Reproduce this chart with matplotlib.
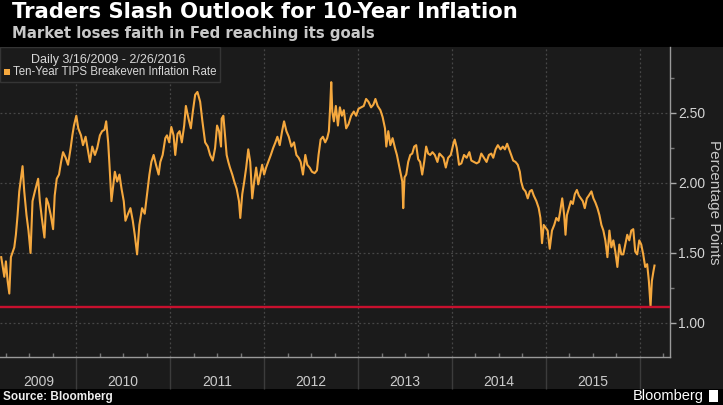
import numpy as np
import matplotlib
matplotlib.use("Agg")
import matplotlib.pyplot as plt
from matplotlib.patches import Rectangle
from matplotlib.ticker import FixedLocator, NullFormatter
import matplotlib.transforms as mtransforms

# Ten-year TIPS breakeven (x = decimal year, y = pct points)
t_a = [2009.203, 2009.236, 2009.253, 2009.271, 2009.289, 2009.306, 2009.342, 2009.359, 2009.377,
       2009.395, 2009.412, 2009.430, 2009.448, 2009.472, 2009.493, 2009.515, 2009.536, 2009.561,
       2009.596, 2009.614, 2009.635, 2009.663, 2009.684, 2009.705, 2009.730, 2009.755, 2009.772,
       2009.794, 2009.818, 2009.840, 2009.861, 2009.889, 2009.914, 2009.942, 2009.960, 2009.977,
       2010.002, 2010.023, 2010.052, 2010.073, 2010.101, 2010.129, 2010.147, 2010.172, 2010.200,
       2010.225, 2010.253, 2010.277, 2010.302, 2010.320, 2010.341, 2010.355, 2010.376]
v_a = [1.47, 1.33, 1.44, 1.30, 1.21, 1.47, 1.54, 1.63, 1.77, 1.94, 2.03, 2.12, 1.94, 1.77, 1.66,
       1.50, 1.87, 1.94, 2.03, 1.87, 1.75, 1.61, 1.89, 1.85, 1.77, 1.67, 1.91, 2.03, 2.06, 2.15,
       2.22, 2.18, 2.13, 2.25, 2.34, 2.41, 2.48, 2.39, 2.34, 2.27, 2.33, 2.22, 2.15, 2.26, 2.20,
       2.25, 2.34, 2.37, 2.38, 2.44, 2.29, 2.13, 1.87]

t_b = [2010.412, 2010.437, 2010.461, 2010.483, 2010.507, 2010.525, 2010.553, 2010.578, 2010.603,
       2010.624, 2010.649, 2010.673, 2010.702, 2010.730, 2010.755, 2010.780, 2010.801, 2010.825,
       2010.850, 2010.878, 2010.896, 2010.921, 2010.949, 2010.967, 2010.991, 2011.013, 2011.037,
       2011.055, 2011.079, 2011.101, 2011.125, 2011.150, 2011.168, 2011.196, 2011.221, 2011.242,
       2011.267, 2011.291, 2011.320, 2011.344, 2011.373, 2011.401, 2011.426, 2011.454, 2011.479,
       2011.500, 2011.521, 2011.542]
v_b = [2.08, 2.01, 2.06, 1.96, 1.87, 1.73, 1.78, 1.82, 1.73, 1.63, 1.49, 1.70, 1.82, 1.78, 1.92,
       2.06, 2.15, 2.20, 2.13, 2.06, 2.15, 2.20, 2.32, 2.34, 2.29, 2.40, 2.34, 2.20, 2.35, 2.37,
       2.29, 2.41, 2.55, 2.46, 2.39, 2.51, 2.63, 2.65, 2.58, 2.44, 2.29, 2.26, 2.20, 2.16, 2.25,
       2.41, 2.37, 2.26]

t_c = [2011.549, 2011.567, 2011.584, 2011.602, 2011.620, 2011.637, 2011.662, 2011.683, 2011.708,
       2011.733, 2011.747, 2011.768, 2011.789, 2011.810, 2011.832, 2011.853, 2011.874, 2011.895,
       2011.916, 2011.938, 2011.959, 2011.980, 2012.001, 2012.022, 2012.044, 2012.072, 2012.097,
       2012.121, 2012.142, 2012.167, 2012.192, 2012.213, 2012.238, 2012.263, 2012.291, 2012.319,
       2012.344, 2012.368, 2012.390, 2012.414, 2012.439, 2012.460, 2012.485, 2012.510, 2012.538,
       2012.563, 2012.580, 2012.602, 2012.626, 2012.651, 2012.672, 2012.690, 2012.704]
v_c = [2.46, 2.48, 2.34, 2.20, 2.15, 2.11, 2.06, 2.01, 1.96, 1.87, 1.75, 1.92, 2.01, 2.11, 2.24,
       2.15, 1.89, 2.01, 2.11, 1.99, 2.06, 2.13, 2.06, 2.11, 2.15, 2.20, 2.25, 2.29, 2.33, 2.27,
       2.37, 2.44, 2.37, 2.33, 2.26, 2.29, 2.20, 2.18, 2.15, 2.06, 2.20, 2.13, 2.11, 2.08, 2.07,
       2.09, 2.20, 2.31, 2.33, 2.29, 2.32, 2.37, 2.55]

t_d = [2012.715, 2012.726, 2012.743, 2012.764, 2012.786, 2012.807, 2012.828, 2012.849, 2012.874,
       2012.899, 2012.927, 2012.955, 2012.980, 2013.005, 2013.033, 2013.061, 2013.086, 2013.111,
       2013.139, 2013.164, 2013.185, 2013.209, 2013.238, 2013.262, 2013.287, 2013.301, 2013.322,
       2013.344, 2013.368, 2013.393, 2013.414, 2013.435, 2013.457, 2013.471, 2013.481, 2013.495,
       2013.513, 2013.534, 2013.556, 2013.577, 2013.598, 2013.619, 2013.640, 2013.661, 2013.683,
       2013.704, 2013.725, 2013.746, 2013.768, 2013.792, 2013.817, 2013.845, 2013.866]
v_d = [2.72, 2.51, 2.44, 2.55, 2.41, 2.54, 2.48, 2.52, 2.39, 2.42, 2.48, 2.51, 2.48, 2.53, 2.54,
       2.55, 2.60, 2.58, 2.54, 2.56, 2.60, 2.55, 2.52, 2.47, 2.39, 2.26, 2.37, 2.27, 2.32, 2.25,
       2.20, 2.13, 2.06, 2.01, 1.82, 2.04, 2.06, 2.15, 2.20, 2.21, 2.26, 2.27, 2.17, 2.15, 2.06,
       2.15, 2.26, 2.21, 2.20, 2.22, 2.20, 2.15, 2.21]

t_e = [2013.881, 2013.909, 2013.934, 2013.959, 2013.987, 2014.015, 2014.029, 2014.051, 2014.075,
       2014.100, 2014.128, 2014.156, 2014.185, 2014.206, 2014.234, 2014.262, 2014.287, 2014.312,
       2014.340, 2014.368, 2014.393, 2014.418, 2014.439, 2014.464, 2014.488, 2014.517, 2014.541,
       2014.563, 2014.587, 2014.609, 2014.630, 2014.651, 2014.676, 2014.700, 2014.722, 2014.736,
       2014.757, 2014.782, 2014.806, 2014.828, 2014.849, 2014.870, 2014.898, 2014.923, 2014.941,
       2014.958, 2014.976, 2014.997, 2015.018, 2015.040]
v_e = [2.20, 2.18, 2.11, 2.18, 2.20, 2.28, 2.31, 2.25, 2.13, 2.14, 2.20, 2.18, 2.22, 2.16, 2.15,
       2.14, 2.15, 2.21, 2.18, 2.15, 2.20, 2.21, 2.18, 2.24, 2.27, 2.24, 2.26, 2.24, 2.28, 2.24,
       2.20, 2.16, 2.15, 2.13, 2.08, 2.01, 1.96, 1.94, 1.89, 1.94, 1.95, 1.91, 1.87, 1.82, 1.75,
       1.57, 1.70, 1.68, 1.66, 1.53]

t_f = [2015.064, 2015.088, 2015.110, 2015.134, 2015.152, 2015.173, 2015.194, 2015.208, 2015.223,
       2015.244, 2015.265, 2015.286, 2015.307, 2015.329, 2015.350, 2015.371, 2015.392, 2015.413,
       2015.435, 2015.456, 2015.484, 2015.505, 2015.526, 2015.548, 2015.569, 2015.590, 2015.611,
       2015.632, 2015.654, 2015.675, 2015.696, 2015.717, 2015.738, 2015.760, 2015.781, 2015.802,
       2015.823, 2015.844, 2015.865, 2015.887, 2015.908, 2015.929, 2015.950, 2015.971, 2015.993,
       2016.014, 2016.035, 2016.056, 2016.077, 2016.095, 2016.113, 2016.127, 2016.144, 2016.155]
v_f = [1.66, 1.70, 1.75, 1.73, 1.80, 1.89, 1.77, 1.63, 1.77, 1.82, 1.87, 1.85, 1.92, 1.95, 1.91,
       1.89, 1.87, 1.82, 1.89, 1.91, 1.94, 1.89, 1.86, 1.82, 1.77, 1.70, 1.66, 1.59, 1.47, 1.66,
       1.54, 1.59, 1.51, 1.40, 1.56, 1.49, 1.49, 1.56, 1.63, 1.59, 1.66, 1.67, 1.51, 1.49, 1.59,
       1.56, 1.49, 1.40, 1.42, 1.30, 1.12, 1.30, 1.37, 1.41]

low_line = 1.115
year_labels = ['2009', '2010', '2011', '2012', '2013', '2014', '2015']
year_label_pos = [2009.6, 2010.5, 2011.5, 2012.5, 2013.5, 2014.5, 2015.5]
year_edges = [2010, 2011, 2012, 2013, 2014, 2015, 2016]
y_ticks = [1.00, 1.50, 2.00, 2.50]
y_minor = [1.25, 1.75, 2.25, 2.75]

t = np.concatenate([t_a, t_b, t_c, t_d, t_e, t_f])
rate = np.concatenate([v_a, v_b, v_c, v_d, v_e, v_f])

plt.rcParams['font.family'] = ['Liberation Sans', 'DejaVu Sans']

W, H = 723, 405
fig = plt.figure(figsize=(W / 100, H / 100), dpi=100, facecolor='black')
bg = '#1b1b1b'
orange = '#f5a83e'
# dark panel behind plot, right labels and year band
fig.patches.append(Rectangle((0, 16 / H), 1, 342 / H, transform=fig.transFigure,
                             facecolor=bg, edgecolor='none', zorder=-10))

ax = fig.add_axes([0, 48 / H, 670 / W, 310 / H])
ax.set_facecolor(bg)
ax.plot(t, rate, color=orange, lw=1.5, zorder=3)
ax.axhline(low_line, color='#c8102e', lw=1.7, zorder=4)

ax.set_xlim(2009.19, 2016.32)
ax.set_ylim(0.757, 2.971)

for s in ['left', 'top']:
    ax.spines[s].set_visible(False)
for s in ['right', 'bottom']:
    ax.spines[s].set_color('#9a9a9a')
    ax.spines[s].set_linewidth(1)

ax.yaxis.tick_right()
ax.set_yticks(y_ticks)
ax.set_yticklabels(['%.2f' % v for v in y_ticks])
ax.yaxis.set_minor_locator(FixedLocator(y_minor))
ax.tick_params(axis='y', which='major', direction='out', length=4, width=1,
               color='#aaaaaa', labelcolor='#d4d4d4', labelsize=10, pad=2)
ax.tick_params(axis='y', which='minor', direction='out', length=3, width=1, color='#777777')

ax.set_xticks(year_edges)
ax.xaxis.set_major_formatter(NullFormatter())
quarters = [y + q for y in range(2009, 2017) for q in (0.25, 0.5, 0.75)]
ax.xaxis.set_minor_locator(FixedLocator(quarters))
ax.tick_params(axis='x', which='major', direction='out', length=23, width=1, color='#3c3c3c')
ax.tick_params(axis='x', which='minor', direction='in', length=3, width=1, color='#777777')

ax.grid(True, which='major', color='#474747', linestyle=(0, (1.5, 2)), lw=0.9, zorder=1)

trans = mtransforms.blended_transform_factory(ax.transData, ax.transAxes)
for pos, lab in zip(year_label_pos, year_labels):
    ax.text(pos, -25 / 310, lab, transform=trans, ha='center', va='center',
            color='#cccccc', fontsize=10)

fig.text(714 / W, 1 - 202 / H, 'Percentage Points', rotation=-90, ha='center', va='center',
         color='#c8c8c8', fontsize=11)

# legend box
ax.add_patch(Rectangle((0, 1 - 35 / 310), 220 / 670, 35 / 310, transform=ax.transAxes,
                       facecolor=bg, edgecolor='#353535', lw=1, zorder=6))
fig.text(108 / W, 1 - 60 / H, 'Daily 3/16/2009 - 2/26/2016', ha='center', va='center',
         color='#d8d8d8', fontsize=9, zorder=7)
fig.patches.append(Rectangle((4 / W, 1 - 75 / H), 6 / W, 6 / H, transform=fig.transFigure,
                             facecolor=orange, edgecolor='none', zorder=7))
fig.text(13 / W, 1 - 72 / H, 'Ten-Year TIPS Breakeven Inflation Rate', ha='left', va='center',
         color='#d8d8d8', fontsize=8.3, zorder=7)

# titles
fig.text(12 / W, 1 - 18 / H, 'Traders Slash Outlook for 10-Year Inflation', ha='left',
         va='baseline', color='white', fontsize=15.2, fontweight='bold',
         family=['DejaVu Sans'])
fig.text(12 / W, 1 - 38 / H, 'Market loses faith in Fed reaching its goals', ha='left',
         va='baseline', color='#c8c8c8', fontsize=10.7, fontweight='bold',
         family=['DejaVu Sans'])

# footer
fig.text(3 / W, 1 - 397 / H, 'Source: Bloomberg', ha='left', va='center', color='#eeeeee',
         fontsize=8.5, fontweight='bold')
fig.text(704 / W, 1 - 396 / H, 'Bloomberg', ha='right', va='center', color='white',
         fontsize=10.5)
fig.patches.append(Rectangle((709 / W, 1 - 402 / H), 9 / W, 12 / H, transform=fig.transFigure,
                             facecolor='white', edgecolor='none'))

fig.savefig('out.png', dpi=100, facecolor='black')
